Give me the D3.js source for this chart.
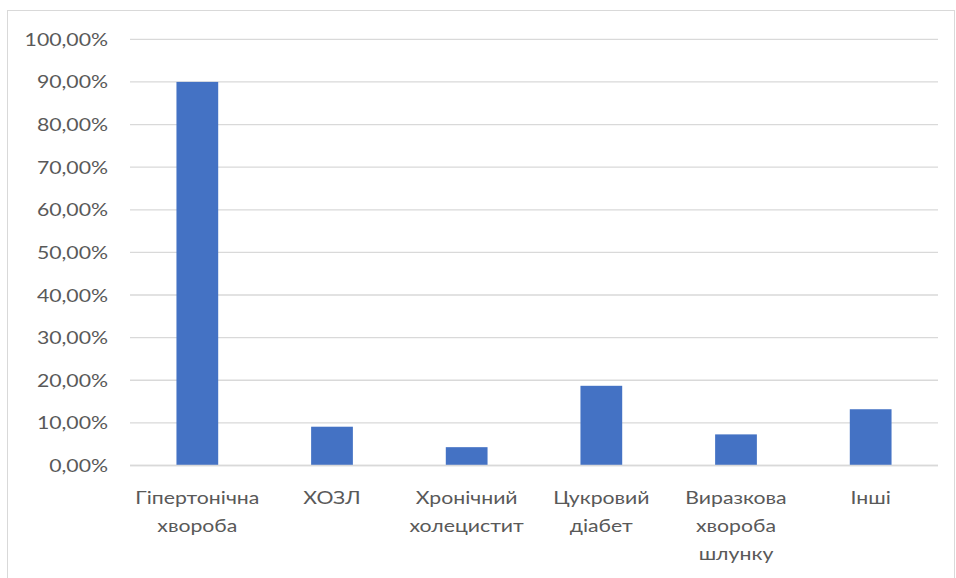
<!DOCTYPE html>
<html>
<head>
<meta charset="utf-8">
<script src="https://cdn.jsdelivr.net/npm/d3@7"></script>
<style>
  html, body { margin: 0; padding: 0; background: #fff; }
  svg { display: block; }
</style>
</head>
<body>
<svg id="chart" width="956" height="578"></svg>
<script>
// Частка супутніх захворювань
const categories = [
  ["Гіпертонічна", "хвороба"],
  ["ХОЗЛ"],
  ["Хронічний", "холецистит"],
  ["Цукровий", "діабет"],
  ["Виразкова", "хвороба", "шлунку"],
  ["Інші"]
];
const values = [90.0, 9.1, 4.3, 18.7, 7.3, 13.2];
const yTicks = [0, 10, 20, 30, 40, 50, 60, 70, 80, 90, 100];

const svg = d3.select("#chart");
const plot = { left: 130, right: 938, top: 39.3, bottom: 465.5 };
const font = "Lato, 'Open Sans', sans-serif";
const fontSize = "18px";
const stretch = 1.18;          // wide-set lettering
const textColor = "#595959";

// chart area frame
svg.append("rect")
  .attr("x", 7.5).attr("y", 10.5)
  .attr("width", 947).attr("height", 600)
  .attr("fill", "#fff")
  .attr("stroke", "#d9d9d9").attr("stroke-width", 1);

const keys = categories.map((c, i) => i);
const x = d3.scaleBand().domain(keys).range([plot.left, plot.right]).paddingInner(0.69).paddingOuter(0.345);
const y = d3.scaleLinear().domain([0, 100]).range([plot.bottom, plot.top]);

// gridlines
svg.append("g").selectAll("line").data(yTicks).join("line")
  .attr("x1", plot.left).attr("x2", plot.right)
  .attr("y1", d => y(d)).attr("y2", d => y(d))
  .attr("stroke", "#d9d9d9").attr("stroke-width", 1.3);

// y axis labels
const fmt = v => v.toFixed(2).replace(".", ",") + "%";
svg.append("g").selectAll("text").data(yTicks).join("text")
  .attr("transform", d => `translate(108,${y(d)}) scale(${stretch},1)`)
  .attr("dy", "0.36em")
  .attr("text-anchor", "end")
  .attr("fill", textColor)
  .style("font-family", font)
  .style("font-size", fontSize)
  .text(fmt);

// bars
svg.append("g").selectAll("rect").data(values).join("rect")
  .attr("x", (d, i) => x(i))
  .attr("width", x.bandwidth())
  .attr("y", d => y(d))
  .attr("height", d => y(0) - y(d))
  .attr("fill", "#4472c4");

// baseline
svg.append("line")
  .attr("x1", plot.left).attr("x2", plot.right)
  .attr("y1", y(0)).attr("y2", y(0))
  .attr("stroke", "#d9d9d9").attr("stroke-width", 1.5);

// category labels
const gx = svg.append("g");
categories.forEach((lines, i) => {
  const cx = x(i) + x.bandwidth() / 2;
  const t = gx.append("text")
    .attr("transform", `translate(${cx},0) scale(${stretch},1)`)
    .attr("text-anchor", "middle")
    .attr("fill", textColor)
    .style("font-family", font)
    .style("font-size", fontSize);
  lines.forEach((ln, j) => {
    t.append("tspan").attr("x", 0).attr("y", 504.5 + j * 27.6).text(ln);
  });
});
</script>
</body>
</html>
